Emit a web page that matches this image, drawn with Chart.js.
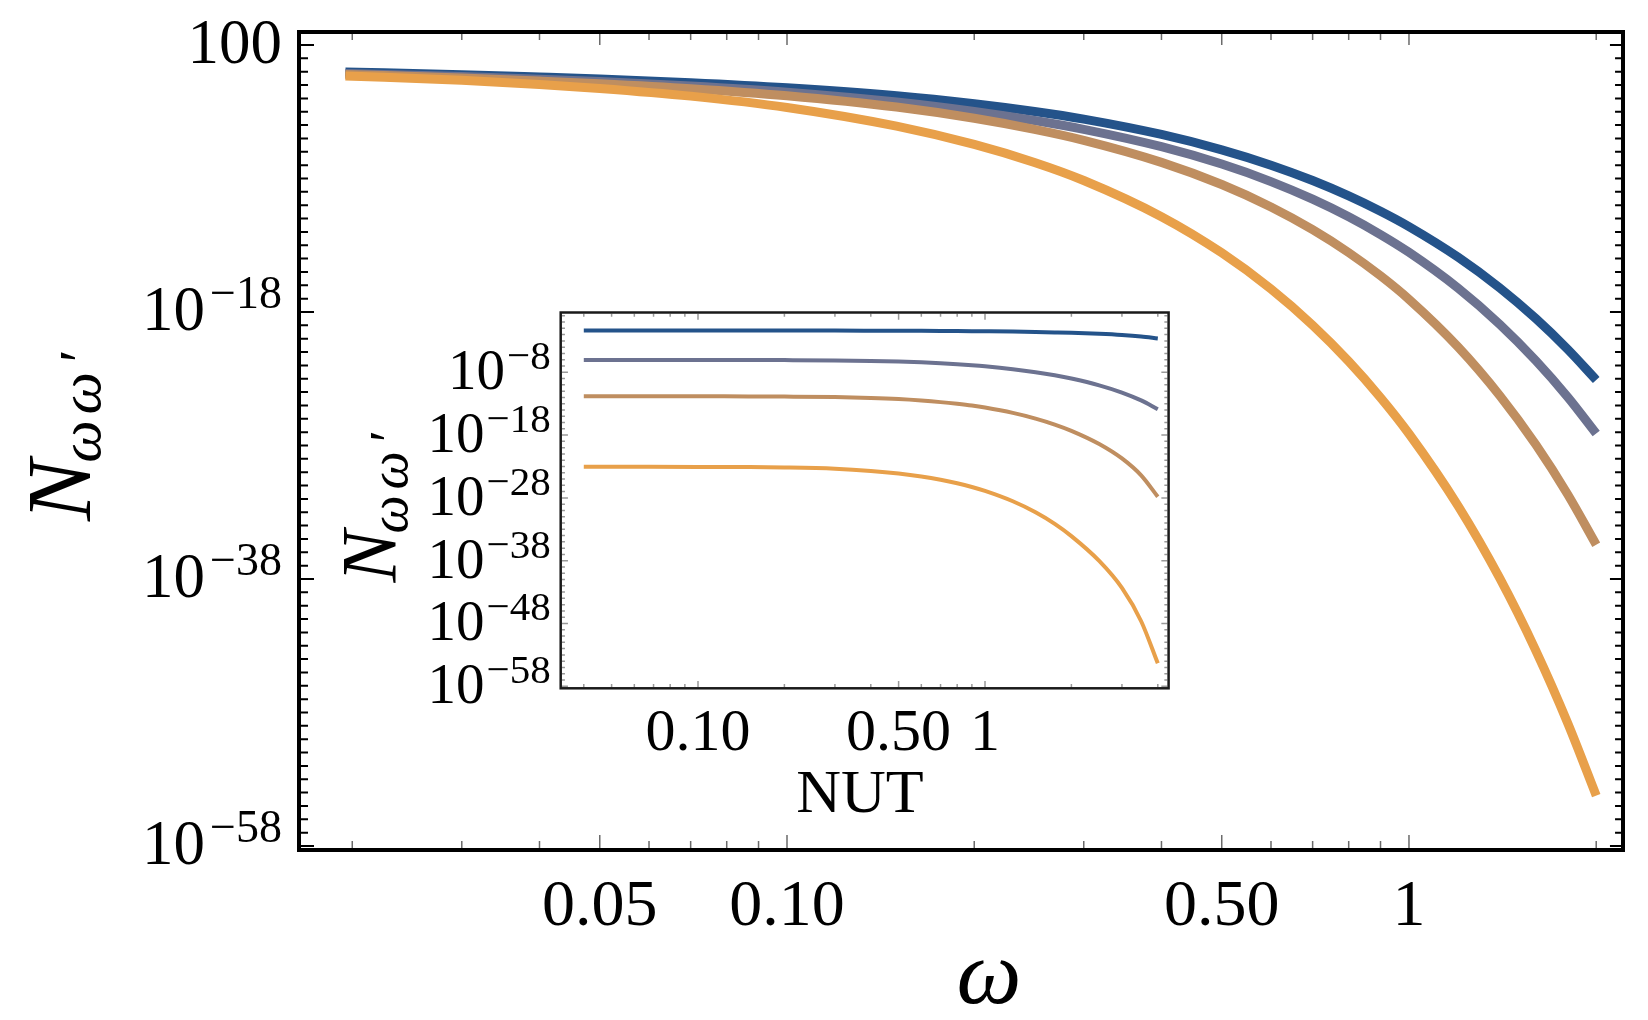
<!DOCTYPE html>
<html>
<head>
<meta charset="utf-8">
<title>N_ωω′ against ω</title>
<script src="https://cdn.jsdelivr.net/npm/chart.js@4.4.1/dist/chart.umd.min.js"></script>
<style>
  html, body { margin: 0; padding: 0; background: #fff; }
  #wrap { position: relative; width: 1648px; height: 1020px; }
  #mainChart { position: absolute; left: 0; top: 0; }
  #insetChart { position: absolute; left: 330px; top: 290px; }
</style>
</head>
<body>
<div id="wrap">
  <canvas id="mainChart" width="1648" height="1020"></canvas>
  <canvas id="insetChart" width="860" height="540"></canvas>
</div>
<script>

// ---- main plot: N against omega, four curves ----
const omega = [0.0195, 0.03, 0.04, 0.05, 0.07, 0.1, 0.15, 0.2, 0.25, 0.3, 0.4, 0.5, 0.6, 0.7, 0.8, 0.9, 1.0, 1.2, 1.4, 1.6, 1.8, 2.0];
const mainBlueExp = [-0.02, -0.22, -0.40, -0.55, -0.82, -1.20, -1.80, -2.40, -2.98, -3.55, -4.70, -5.85, -7.00, -8.15, -9.30, -10.45, -11.60, -13.90, -16.20, -18.50, -20.80, -23.09];
const mainGrayExp = [-0.13, -0.36, -0.56, -0.74, -1.07, -1.53, -2.27, -2.98, -3.66, -4.32, -5.62, -6.92, -8.23, -9.55, -10.87, -12.20, -13.53, -16.22, -18.93, -21.65, -24.37, -27.10];
const mainBrownExp = [-0.21, -0.47, -0.70, -0.90, -1.27, -1.80, -2.65, -3.49, -4.32, -5.14, -6.79, -8.45, -10.13, -11.83, -13.55, -15.29, -17.05, -20.63, -24.27, -27.95, -31.67, -35.43];
const mainOrangeExp = [-0.32, -0.64, -0.95, -1.25, -1.83, -2.68, -4.08, -5.45, -6.80, -8.15, -10.86, -13.57, -16.28, -18.99, -21.70, -24.41, -27.12, -32.54, -37.96, -43.38, -48.80, -54.22];

// ---- inset: N against NUT ----
const nut = [0.04, 0.06, 0.1, 0.15, 0.2, 0.3, 0.4, 0.5, 0.6, 0.7, 0.8, 0.9, 1, 1.25, 1.5, 1.75, 2, 2.5, 3, 3.5, 4];
const insetBlueExp = [-1.35, -1.35, -1.35, -1.35, -1.35, -1.36, -1.37, -1.38, -1.395, -1.41, -1.43, -1.45, -1.47, -1.52, -1.58, -1.65, -1.72, -1.88, -2.07, -2.31, -2.61];
const insetGrayExp = [-6.03, -6.03, -6.04, -6.04, -6.06, -6.11, -6.19, -6.29, -6.42, -6.56, -6.71, -6.87, -7.04, -7.50, -7.98, -8.48, -9.00, -10.08, -11.23, -12.48, -13.88];
const insetBrownExp = [-11.82, -11.82, -11.83, -11.84, -11.87, -11.95, -12.09, -12.27, -12.50, -12.75, -13.02, -13.30, -13.62, -14.47, -15.37, -16.32, -17.32, -19.42, -21.72, -24.42, -27.82];
const insetOrangeExp = [-23.04, -23.05, -23.07, -23.10, -23.16, -23.36, -23.70, -24.11, -24.58, -25.10, -25.66, -26.26, -26.89, -28.54, -30.29, -32.14, -34.09, -38.04, -42.34, -47.64, -54.34];

const colors = ['#24538a', '#6c7290', '#bf8e60', '#e8a04a'];

// ---- ticks and tick labels ----
const mainXMajor = [0.05, 0.1, 0.5, 1];
const mainXLabels = ['0.05', '0.10', '0.50', '1'];
const mainXMinor = [0.02, 0.03, 0.04, 0.06, 0.07, 0.08, 0.09, 0.2, 0.3, 0.4, 0.6, 0.7, 0.8, 0.9, 2];
const mainYMajor = [2, -18, -38, -58];          // exponents of 10
const mainYLabels = [['100', ''], ['10', '−18'], ['10', '−38'], ['10', '−58']];

const insetXMajor = [0.1, 0.5, 1];
const insetXLabels = ['0.10', '0.50', '1'];
const insetXMinor = [0.04, 0.05, 0.06, 0.07, 0.08, 0.09, 0.2, 0.3, 0.4, 0.6, 0.7, 0.8, 0.9, 2, 3, 4];
const insetYMajor = [-8, -18, -28, -38, -48, -58];
const insetYLabels = [['10', '−8'], ['10', '−18'], ['10', '−28'], ['10', '−38'], ['10', '−48'], ['10', '−58']];

const serif = '"Liberation Serif", "DejaVu Serif", serif';

function points(xs, exps) {
    return xs.map((x, i) => ({ x: x, y: Math.pow(10, exps[i]) }));
}

// width of a string drawn char by char with extra spacing
function spacedWidth(ctx, text, gap) {
    let w = 0;
    for (const ch of text) w += ctx.measureText(ch).width + gap;
    return w - gap;
}
function fillSpaced(ctx, text, x, y, gap) {
    for (const ch of text) {
        ctx.fillText(ch, x, y);
        x += ctx.measureText(ch).width + gap;
    }
}

// Mathematica-like frame: inward ticks on all sides, labels drawn by hand
const frameTicks = {
    id: 'frameTicks',
    afterDraw(chart, args, o) {
        const ctx = chart.ctx;
        const a = chart.chartArea;
        const xs = chart.scales.x;
        const ys = chart.scales.y;
        const half = o.frameWidth / 2;
        ctx.save();

        // x ticks (bottom + top)
        ctx.lineWidth = o.xTickWidth;
        ctx.strokeStyle = o.xTickColor;
        const xt = o.xMajor.map(v => [v, o.majorLen]).concat(o.xMinor.map(v => [v, o.minorLen]));
        xt.forEach(([v, len]) => {
            const px = xs.getPixelForValue(v);
            ctx.beginPath();
            ctx.moveTo(px, a.bottom - half);
            ctx.lineTo(px, a.bottom - half - len);
            ctx.moveTo(px, a.top + half);
            ctx.lineTo(px, a.top + half + len * o.farScale);
            ctx.stroke();
        });

        // y ticks (left + right), one per decade
        ctx.lineWidth = o.yTickWidth;
        ctx.strokeStyle = o.yTickColor;
        const e0 = Math.ceil(Math.log10(ys.min));
        const e1 = Math.floor(Math.log10(ys.max));
        for (let e = e0; e <= e1; e++) {
            const len = o.yMajor.includes(e) ? o.majorLen : o.minorLen;
            const py = ys.getPixelForValue(Math.pow(10, e));
            ctx.beginPath();
            ctx.moveTo(a.left + half, py);
            ctx.lineTo(a.left + half + len, py);
            ctx.moveTo(a.right - half, py);
            ctx.lineTo(a.right - half - len * o.farScale, py);
            ctx.stroke();
        }

        // frame
        ctx.lineWidth = o.frameWidth;
        ctx.strokeStyle = o.frameColor;
        ctx.strokeRect(a.left, a.top, a.right - a.left, a.bottom - a.top);

        // x tick labels
        ctx.fillStyle = '#000';
        ctx.textBaseline = 'alphabetic';
        ctx.textAlign = 'center';
        ctx.font = o.xFont;
        o.xMajor.forEach((v, i) => {
            ctx.fillText(o.xLabels[i], xs.getPixelForValue(v), a.bottom + o.xDrop);
        });

        // y tick labels as 10^n
        ctx.textAlign = 'left';
        o.yMajor.forEach((e, i) => {
            const [base, exp] = o.yLabels[i];
            const py = ys.getPixelForValue(Math.pow(10, e)) + o.yShift;
            ctx.font = o.yFont;
            const wb = ctx.measureText(base).width;
            ctx.font = o.yExpFont;
            const we = exp ? ctx.measureText(exp).width + o.yExpGap : 0;
            const left = a.left - o.yGap - wb - we;
            ctx.font = o.yFont;
            ctx.fillText(base, left, py);
            if (exp) {
                ctx.font = o.yExpFont;
                ctx.fillText(exp, left + wb + o.yExpGap, py - o.yRaise);
            }
        });

        // x axis title
        const xt2 = o.xTitle;
        ctx.font = xt2.font;
        ctx.textAlign = 'center';
        ctx.fillText(xt2.text, xt2.x, xt2.y);

        // y axis title N_{ωω'}, rotated
        const yt = o.yTitle;
        ctx.font = yt.font;
        const wN = ctx.measureText('N').width;
        ctx.font = yt.subFont;
        const wS = spacedWidth(ctx, yt.sub, yt.gap);
        const total = wN + wS - yt.tuck;
        ctx.translate(yt.x, yt.cy);
        ctx.rotate(-Math.PI / 2);
        ctx.textAlign = 'left';
        ctx.font = yt.font;
        ctx.fillText('N', -total / 2, 0);
        ctx.font = yt.subFont;
        fillSpaced(ctx, yt.sub, -total / 2 + wN - yt.tuck, yt.drop, yt.gap);

        ctx.restore();
    }
};

function datasets(xs, list, width) {
    return list.map((exps, i) => ({
        data: points(xs, exps),
        borderColor: colors[i],
        borderWidth: width,
        pointRadius: 0,
        fill: false,
        cubicInterpolationMode: 'monotone',
        order: list.length - i
    }));
}

// main chart
new Chart(document.getElementById('mainChart'), {
    type: 'line',
    data: { datasets: datasets(omega, [mainBlueExp, mainGrayExp, mainBrownExp, mainOrangeExp], 9) },
    options: {
        responsive: false,
        animation: false,
        devicePixelRatio: 1,
        layout: { padding: { left: 299, top: 32, right: 25, bottom: 170 } },
        scales: {
            x: { type: 'logarithmic', display: false, min: Math.pow(10, -1.7846), max: Math.pow(10, 0.3441) },
            y: { type: 'logarithmic', display: false, min: Math.pow(10, -58.30), max: Math.pow(10, 2.974) }
        },
        plugins: {
            legend: { display: false },
            tooltip: { enabled: false },
            frameTicks: {
                frameWidth: 4, frameColor: '#000',
                xMajor: mainXMajor, xMinor: mainXMinor, xLabels: mainXLabels,
                yMajor: mainYMajor, yLabels: mainYLabels,
                majorLen: 13, minorLen: 7, farScale: 0.85,
                xTickColor: '#6b6b6b', xTickWidth: 1.5,
                yTickColor: '#000', yTickWidth: 2,
                xFont: '66px ' + serif, xDrop: 75,
                yFont: '63px ' + serif, yExpFont: '46px ' + serif,
                yRaise: 22, yGap: 17, yShift: 18, yExpGap: 5,
                xTitle: { text: 'ω', font: 'italic 92px ' + serif, x: 989, y: 1003 },
                yTitle: { sub: 'ωω′', font: 'italic 92px ' + serif, subFont: 'italic 60px ' + serif,
                          x: 90, cy: 437, drop: 10, tuck: 3, gap: 6 }
            }
        }
    },
    plugins: [frameTicks]
});

// inset chart
new Chart(document.getElementById('insetChart'), {
    type: 'line',
    data: { datasets: datasets(nut, [insetBlueExp, insetGrayExp, insetBrownExp, insetOrangeExp], 4) },
    options: {
        responsive: false,
        animation: false,
        devicePixelRatio: 1,
        layout: { padding: { left: 230.7, top: 22.5, right: 21.4, bottom: 141.7 } },
        scales: {
            x: { type: 'logarithmic', display: false, min: Math.pow(10, -1.4784), max: Math.pow(10, 0.6397) },
            y: { type: 'logarithmic', display: false, min: Math.pow(10, -58.32), max: Math.pow(10, 1.52) }
        },
        plugins: {
            legend: { display: false },
            tooltip: { enabled: false },
            frameTicks: {
                frameWidth: 2.5, frameColor: '#1a1a1a',
                xMajor: insetXMajor, xMinor: insetXMinor, xLabels: insetXLabels,
                yMajor: insetYMajor, yLabels: insetYLabels,
                majorLen: 6, minorLen: 3, farScale: 1,
                xTickColor: '#999', xTickWidth: 1.5,
                yTickColor: '#999', yTickWidth: 1.5,
                xFont: '60px ' + serif, xDrop: 62,
                yFont: '57px ' + serif, yExpFont: '41px ' + serif,
                yRaise: 20, yGap: 10, yShift: 17, yExpGap: 2,
                xTitle: { text: 'NUT', font: '62px ' + serif, x: 530, y: 522 },
                yTitle: { sub: 'ωω′', font: 'italic 78px ' + serif, subFont: 'italic 54px ' + serif,
                          x: 65, cy: 218, drop: 12, tuck: 3, gap: 6 }
            }
        }
    },
    plugins: [frameTicks]
});
</script>
</body>
</html>
